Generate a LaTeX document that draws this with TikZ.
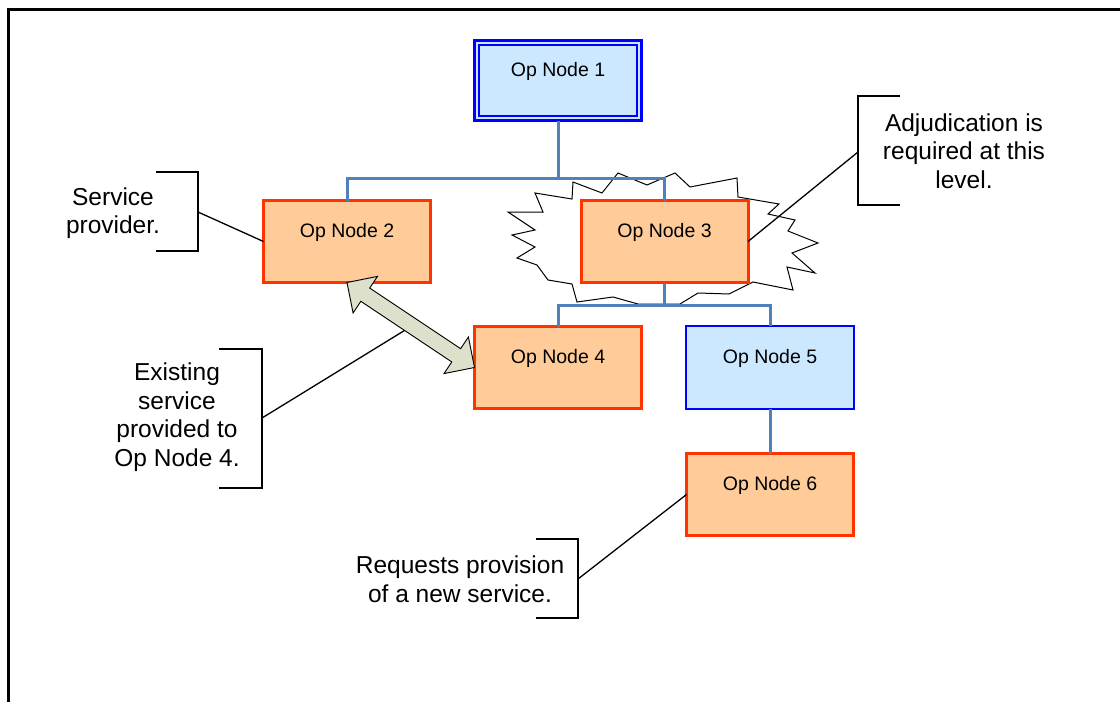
\documentclass[tikz,border=0pt]{standalone}
\usepackage{fontspec}
\setmainfont{Liberation Sans}
\usetikzlibrary{calc}
\definecolor{peach}{HTML}{FFCC99}
\definecolor{redb}{HTML}{FF3300}
\definecolor{lblue}{HTML}{CCE8FF}
\definecolor{bblue}{HTML}{0000FF}
\definecolor{connc}{HTML}{4F81BD}
\definecolor{arrowfill}{HTML}{DDE1CB}
\begin{document}
\begin{tikzpicture}[x=1pt,y=-1pt,
  boxbase/.style={outer sep=0pt, minimum width=167pt, minimum height=82pt,
    font=\fontsize{19.5}{23}\selectfont, text height=15pt, text depth=24pt, inner sep=0pt},
  opbox/.style={boxbase, draw=redb, fill=peach, line width=3pt},
  bluebox/.style={boxbase, draw=bblue, fill=lblue, line width=2pt},
  connline/.style={draw=connc, line width=3pt},
  leader/.style={draw=black, line width=1.3pt},
  bracket/.style={draw=black, line width=1.8pt},
  note/.style={align=center, inner sep=0pt, font=\fontsize{24.5}{28.5}\selectfont},
  burst/.style={draw=black, line width=1pt}
]
\useasboundingbox (0,0) rectangle (1120,702);
% frame
\draw[line width=2.2pt] (8.5,702) -- (8.5,9.5) -- (1120,9.5);

% starburst
\draw[burst] (508,212) -- (543,212) -- (535,193) -- (572,199) -- (573,182) -- (602,193) -- (618,173) -- (647,185) -- (675,173) -- (690,187) -- (737,178) -- (738,197) -- (779,204) -- (768,214) -- (795,220) -- (788,231) -- (818,243) -- (792,253) -- (815,273) -- (787,267) -- (793,290) -- (753,282) -- (729,294) -- (698,293) -- (680,304) -- (638,304) -- (613,297) -- (577,302) -- (572,284) -- (548,280) -- (537,265) -- (517,258) -- (535,247) -- (512,235) -- (535,230) -- cycle;

% nodes
\node[bluebox, line width=3pt, minimum width=167pt, minimum height=80pt] (n1) at (558,80.5) {Op Node 1};
\draw[draw=bblue, line width=1.7pt] ([shift={(4.5,4.5)}]n1.north west) rectangle ([shift={(-4.5,-4.5)}]n1.south east);
\node[opbox] (n2) at (347,241.5) {Op Node 2};
\node[opbox] (n3) at (664.5,241.5) {Op Node 3};
\node[opbox] (n4) at (558,367.5) {Op Node 4};
\node[bluebox, minimum width=168pt, minimum height=83pt] (n5) at (770,367.5) {Op Node 5};
\node[opbox] (n6) at (770,494.5) {Op Node 6};

% connectors
\coordinate (b1) at (558,178);
\coordinate (b2) at (664.5,305);
\draw[connline] (n1.south) -- (b1) -| (n2.north);
\draw[connline] (b1) -| (n3.north);
\draw[connline] (n3.south) -- (b2) -| (n4.north);
\draw[connline] (b2) -| (n5.north);
\draw[connline] (n5.south) -- (n6.north);

% callouts
\node[note] (t2) at (113,213) {Service\\provider.};
\coordinate (k2) at (198,212);
\draw[bracket] (156,172) -- (198,172) -- (198,251) -- (156,251);
\draw[leader] (k2) -- (n2.west);

\node[note] (t3) at (964,151) {Adjudication is\\required at this\\level.};
\coordinate (k3) at (858,152);
\draw[bracket] (900,96) -- (858,96) -- (858,205) -- (900,205);
\draw[leader] (k3) -- (n3.east);

\node[note] (t4) at (177,417) {Existing\\service\\provided to\\Op Node 4.};
\coordinate (k4) at (262,418);
\draw[bracket] (219,349) -- (262,349) -- (262,488) -- (219,488);
\coordinate (am) at ($(n2.south)!0.51!(n4.west)$);
\draw[leader] (k4) -- (am);

\node[note] (t6) at (460,579) {Requests provision\\of a new service.};
\coordinate (k6) at (578,579);
\draw[bracket] (536,539) -- (578,539) -- (578,618) -- (536,618);
\draw[leader] (k6) -- (n6.west);

% double block arrow between n2 and n4
\coordinate (A) at (n2.south);
\coordinate (B) at (n4.west);
\coordinate (H1) at ($(A)!22pt!(B)$);
\coordinate (H2) at ($(B)!22pt!(A)$);
\draw[fill=arrowfill, line width=0.9pt, line join=miter]
  (A) -- ($(H1)!22pt!90:(B)$) -- ($(H1)!8pt!90:(B)$) -- ($(H2)!8pt!-90:(A)$) -- ($(H2)!22pt!-90:(A)$)
  -- (B) -- ($(H2)!22pt!90:(A)$) -- ($(H2)!8pt!90:(A)$) -- ($(H1)!8pt!-90:(B)$) -- ($(H1)!22pt!-90:(B)$) -- cycle;
\end{tikzpicture}
\end{document}
